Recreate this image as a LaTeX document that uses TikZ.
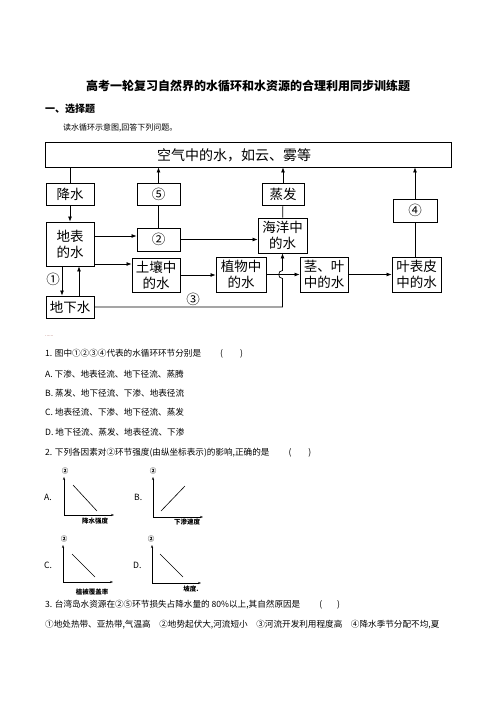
\documentclass[tikz,border=0pt]{standalone}
\usepackage{fontspec}
\setmainfont{Noto Sans CJK SC}
\usepackage{tikz}
\usetikzlibrary{arrows.meta}

\definecolor{dotred}{RGB}{150,70,60}
\newcommand{\fsz}[1]{\fontsize{#1}{1.2\dimexpr#1pt\relax}\selectfont}

\begin{document}
\begin{tikzpicture}[x=1pt, y=-1pt,
    box/.style={draw, line width=0.9pt, align=center, inner sep=0pt,
                font=\fsz{13.5}, minimum width=48pt, minimum height=22pt},
    tall/.style={box, minimum height=35pt},
    flow/.style={line width=0.7pt, -{Latex[length=5pt,width=4pt]}},
    link/.style={line width=0.7pt},
    body/.style={anchor=west, inner sep=0pt, font=\fsz{8.6}},
    axis/.style={line width=0.5pt, -{Stealth[length=3pt,width=2.2pt]}},
    axlabel/.style={inner sep=0pt, font=\bfseries\fsz{6.5}},
  ]
    \useasboundingbox (0,0) rectangle (496,702);

    % heading
    \node[font=\bfseries\fsz{12}] (title) at (248,86) {高考一轮复习自然界的水循环和水资源的合理利用同步训练题};
    \node[anchor=west, inner sep=0pt, font=\bfseries\fsz{10}] (sect) at (45,109) {一、选择题};
    \node[anchor=west, inner sep=0pt, font=\fsz{8}] (intro) at (63,128) {读水循环示意图,回答下列问题。};

    % water cycle
    \node[box, minimum width=406pt, minimum height=25pt] (air) at (248,154.5) {};
    \node[inner sep=0pt, font=\fsz{14}] (airtext) at (234,155) {空气中的水，如云、雾等};

    \node[box] (rain) at (70,194) {降水};
    \node[box, minimum height=44pt] (surf) at (70,244) {地表\\的水};
    \node[box] (ground) at (70,307) {地下水};
    \node[box, minimum width=43pt] (n5) at (158.5,194) {⑤};
    \node[box, minimum width=43pt, minimum height=23pt] (n2) at (158.5,239.5) {②};
    \node[tall, minimum height=34pt] (soil) at (156,275) {土壤中\\的水};
    \node[tall, minimum width=50pt] (plant) at (241,274.5) {植物中\\的水};
    \node[tall, minimum width=49pt] (sea) at (282.5,235.5) {海洋中\\的水};
    \node[box, minimum width=42pt] (evap) at (283,194) {蒸发};
    \node[tall] (stem) at (324,274.5) {茎、叶\\中的水};
    \node[tall, minimum width=49pt] (leaf) at (416.5,274.5) {叶表皮\\中的水};
    \node[box, minimum width=44pt, minimum height=23pt] (n4) at (415,210.5) {④};

    \node[inner sep=0pt, font=\fsz{13.5}] (l1) at (53,279) {①};
    \node[inner sep=0pt, font=\fsz{13.5}] (l3) at (193,299) {③};

    \draw[link] (rain.north) -- (rain.north |- air.south);
    \draw[flow] (rain) -- (surf);
    \draw[flow] ([xshift=-8pt]surf.south) -- ([xshift=-8pt]ground.north);
    \draw[flow] ([xshift=9pt]ground.north) -- ([xshift=9pt]surf.south);
    \draw[flow] ([yshift=8pt]surf.east) -- ([yshift=8pt]surf.east -| n2.west);
    \draw[flow] ([yshift=-20pt]surf.east) -- ([yshift=-20pt]surf.east -| soil.west);
    \draw[link] (n2) -- (n5);
    \draw[flow] (n5.north) -- (n5.north |- air.south);
    \draw[flow] (n2.east) -- (n2.east -| sea.west);
    \draw[flow] (soil.east) -- (soil.east -| plant.west);
    \draw[flow] (plant.east) -- (plant.east -| stem.west);
    \draw[flow] (stem.east) -- (stem.east -| leaf.west);
    \draw[link] (sea) -- (evap);
    \draw[flow] (evap.north) -- (evap.north |- air.south);
    \draw[link] (leaf.north -| n4.south) -- (n4.south);
    \draw[flow] (n4.north) -- (n4.north |- air.south);
    % runoff under the plant line
    \coordinate (hop) at (sea.south |- plant.east);
    \draw[flow] (ground.east) -| ([yshift=-4pt]hop)
      .. controls +(-5pt,0) and +(-5pt,0) .. ([yshift=4pt]hop) -- (sea.south);

    % questions
    \node[anchor=west, inner sep=0pt, font=\fsz{5}, text=dotred] (dots) at (45,336) {......};
    \node[body] (q1) at (45,354) {1. 图中①②③④代表的水循环环节分别是\hspace{19pt}(\hspace{17pt})};
    \node[body] (q1a) at (45,374) {A. 下渗、地表径流、地下径流、蒸腾};
    \node[body] (q1b) at (45,393) {B. 蒸发、地下径流、下渗、地表径流};
    \node[body] (q1c) at (45,412) {C. 地表径流、下渗、地下径流、蒸发};
    \node[body] (q1d) at (45,432) {D. 地下径流、蒸发、地表径流、下渗};
    \node[body] (q2) at (45,453) {2. 下列各因素对②环节强度(由纵坐标表示)的影响,正确的是\hspace{19pt}(\hspace{17pt})};

    % small graphs
    \node[body] (ga) at (44,497) {A.};
    \draw[axis] (64,515) -- (64,477);
    \draw[axis] (64,515) -- (114,515);
    \draw[line width=0.6pt] (73,485) -- (97,511);
    \node[axlabel] (ya) at (65,471) {②};
    \node[axlabel] (xa) at (95,521) {降水强度};

    \node[body] (gb) at (134,497) {B.};
    \draw[axis] (153,517) -- (153,477);
    \draw[axis] (153,517) -- (203,517);
    \draw[line width=0.6pt] (161,511) -- (185,486);
    \node[axlabel] (yb) at (153,471) {②};
    \node[axlabel] (xb) at (187,522) {下渗速度};

    \node[body] (gc) at (44,565) {C.};
    \draw[axis] (63,582) -- (63,545);
    \draw[axis] (63,582) -- (113,582);
    \draw[line width=0.6pt] (72,554) -- (95,577);
    \node[axlabel] (yc) at (64,539) {②};
    \node[axlabel] (xc) at (92,592) {植被覆盖率};

    \node[body] (gd) at (133,565) {D.};
    \draw[axis] (152,583) -- (152,545);
    \draw[axis] (152,583) -- (201,583);
    \draw[line width=0.6pt] (160,554) -- (183,577);
    \node[axlabel] (yd) at (151,539) {②};
    \node[axlabel] (xd) at (191,589) {坡度.};

    \node[body] (q3) at (45,605) {3. 台湾岛水资源在②⑤环节损失占降水量的 80\%以上,其自然原因是\hspace{19pt}(\hspace{15pt})};
    \node[body] (q3o) at (45,625) {①地处热带、亚热带,气温高\hspace{1em}②地势起伏大,河流短小\hspace{1em}③河流开发利用程度高\hspace{1em}④降水季节分配不均,夏};
\end{tikzpicture}
\end{document}
